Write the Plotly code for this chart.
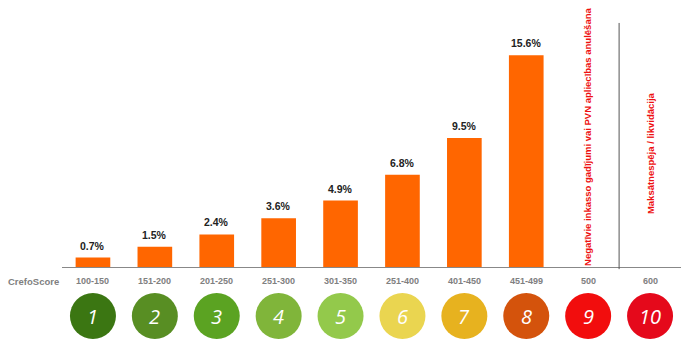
import plotly.graph_objects as go

# CrefoScore bands and default rates
score_bands = ["100-150", "151-200", "201-250", "251-300", "301-350",
               "251-400", "401-450", "451-499", "500", "600"]
default_rate = [0.7, 1.5, 2.4, 3.6, 4.9, 6.8, 9.5, 15.6]
class_numbers = ["1", "2", "3", "4", "5", "6", "7", "8", "9", "10"]
class_colors = ["#3b7612", "#588e23", "#5ba322", "#80b53a", "#93c94b",
                "#ead550", "#e7b21f", "#d4530c", "#f20d0d", "#e5091b"]
special_notes = {
    8: "Negatīvie inkasso gadījumi vai PVN apliecības anulēšana",
    9: "Maksātnespēja / likvidācija",
}
note_levels = {8: 9.6, 9: 8.4}

x_pos = list(range(len(score_bands)))

fig = go.Figure()
fig.add_trace(go.Bar(
    x=x_pos[:len(default_rate)],
    y=default_rate,
    width=0.56,
    marker=dict(color="#ff6600", line=dict(width=0)),
    hoverinfo="skip",
))

annotations = []
shapes = []

# value labels above the bars
for i, v in enumerate(default_rate):
    annotations.append(dict(
        x=i, y=v, xref="x", yref="y", text=f"{v:.1f}%", showarrow=False,
        yanchor="bottom", yshift=4,
        font=dict(family="Liberation Sans", size=10.5, color="#222222",
                  weight="bold"),
    ))

# score band labels under the axis
for i, lab in enumerate(score_bands):
    annotations.append(dict(
        x=i, y=0, xref="x", yref="y", text=lab, showarrow=False,
        yshift=-14, yanchor="middle",
        font=dict(family="Liberation Sans", size=9, color="#808080",
                  weight="bold"),
    ))
annotations.append(dict(
    x=0, y=0, xref="paper", yref="y", text="CrefoScore", showarrow=False,
    xanchor="right", xshift=-1, yshift=-14, yanchor="middle",
    font=dict(family="Liberation Sans", size=9.5, color="#808080",
              weight="bold"),
))

# coloured class circles with numbers
for i, (num, col) in enumerate(zip(class_numbers, class_colors)):
    shapes.append(dict(
        type="circle", xref="x", yref="paper",
        xsizemode="pixel", ysizemode="pixel",
        xanchor=i, yanchor=0,
        x0=-23, x1=23, y0=-72, y1=-26,
        fillcolor=col, line=dict(width=0),
    ))
    annotations.append(dict(
        x=i, y=0, xref="x", yref="y", text=num, showarrow=False,
        yshift=-49, yanchor="middle",
        font=dict(family="Open Sans", size=20, color="white", style="italic"),
    ))

# rotated notes for classes 9 and 10
for i, note in special_notes.items():
    annotations.append(dict(
        x=i, y=note_levels[i], xref="x", yref="y", text=note,
        showarrow=False, textangle=-90,
        font=dict(family="Liberation Sans", size=9.5, color="#ee1111",
                  weight="bold"),
    ))

# separator between the last two classes
shapes.append(dict(
    type="line", xref="x", yref="paper", x0=8.5, x1=8.5,
    y0=-0.008, y1=0.914, line=dict(color="#555555", width=1),
))

fig.update_layout(
    width=698, height=350,
    margin=dict(l=62, r=17, t=0, b=83),
    paper_bgcolor="white", plot_bgcolor="white",
    showlegend=False,
    xaxis=dict(range=[-0.5, 9.5], showgrid=False, zeroline=False,
               showticklabels=False, showline=True, linecolor="#888888",
               linewidth=1, ticks=""),
    yaxis=dict(range=[0, 19.68], showgrid=False, zeroline=False,
               showticklabels=False, showline=False),
    annotations=annotations,
    shapes=shapes,
)

fig.write_html("out.html")
